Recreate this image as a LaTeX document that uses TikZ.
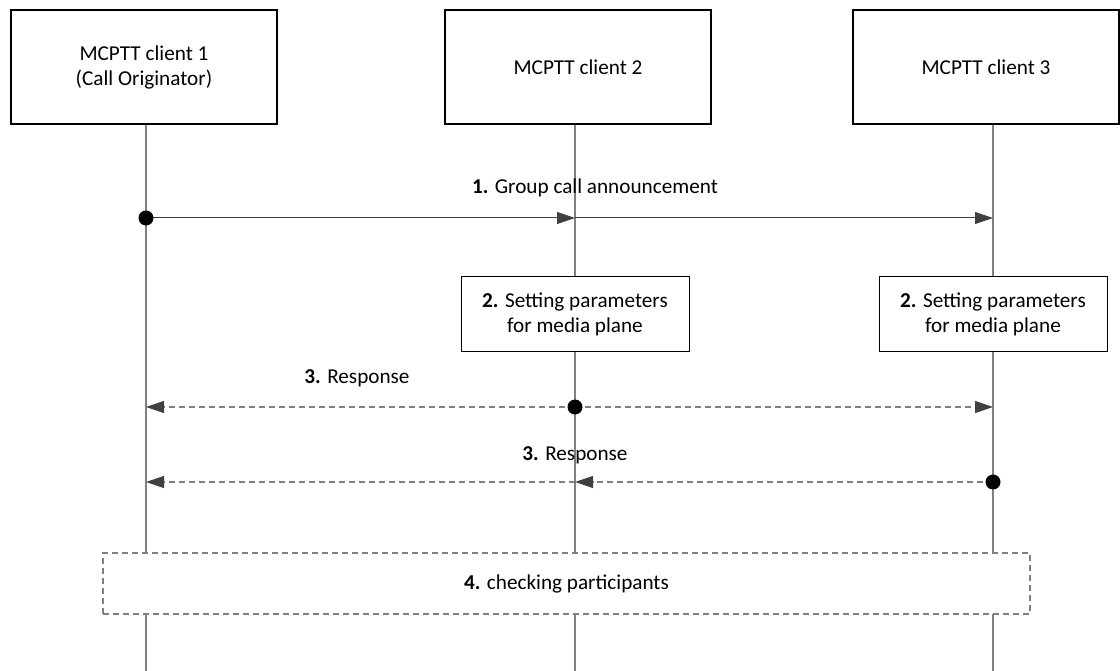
\documentclass[tikz,border=0pt]{standalone}
\usepackage{fontspec}
\setmainfont{Carlito}
\usetikzlibrary{arrows.meta,positioning,calc}
\definecolor{life}{HTML}{808080}
\definecolor{tip}{HTML}{404040}
\tikzset{
  >={Triangle[length=18pt,width=12pt,color=tip]},
  txt/.style={font=\fontsize{21.2}{25}\selectfont},
  actor/.style={txt,draw=black,line width=1.5pt,minimum width=266pt,minimum height=114pt,align=center,fill=white},
  proc/.style={txt,draw=black,line width=0.8pt,minimum width=228pt,minimum height=75pt,align=center,fill=white},
  lab/.style={txt,inner sep=0pt},
  lifeline/.style={draw=life,line width=1.3pt},
  arr/.style={->,draw=tip,line width=1pt},
  darr/.style={->,draw=life,line width=1.2pt,dash pattern=on 6pt off 4pt},
  dot/.style={circle,fill=black,inner sep=0pt,minimum size=15pt},
}
\begin{document}
\begin{tikzpicture}[x=1pt,y=-1pt]
\useasboundingbox (0,0) rectangle (1120,671);
% lifelines
\foreach \n/\x in {1/146,2/575,3/993}{
  \coordinate (top\n) at (\x,124);
  \coordinate (bot\n) at (\x,671);
  \draw[lifeline] (top\n) -- (bot\n);
}
% actors
\node[actor] (c1) at (144,67) {MCPTT client 1\\(Call Originator)};
\node[actor] (c2) at (578,67) {MCPTT client 2};
\node[actor] (c3) at (986,67) {MCPTT client 3};
% 1. announcement
\coordinate (m1a) at (146,218);
\coordinate (m1b) at (575,218);
\coordinate (m1c) at (993,218);
\draw[arr] (m1a) -- (m1b);
\draw[arr] (m1b) -- (m1c);
\node[dot] (d1) at (m1a) {};
\node[lab] (l1) at (595,188) {\textbf{1.} Group call announcement};
% 2. setting parameters
\node[proc] (p2) at (575,314) {\textbf{2.} Setting parameters\\for media plane};
\node[proc] (p3) at (993,314) {\textbf{2.} Setting parameters\\for media plane};
% 3. response from client 2
\coordinate (m3a) at (146,407);
\coordinate (m3b) at (575,407);
\coordinate (m3c) at (993,407);
\draw[darr] (m3b) -- (m3a);
\draw[darr] (m3b) -- (m3c);
\node[dot] (d3) at (m3b) {};
\node[lab] (l3) at (357,378) {\textbf{3.} Response};
% 3. response from client 3
\coordinate (m4a) at (146,482);
\coordinate (m4b) at (575,482);
\coordinate (m4c) at (993,482);
\draw[darr] (m4c) -- (m4b);
\draw[darr] (m4b) -- (m4a);
\node[dot] (d4) at (m4c) {};
\node[lab] (l4) at (575,455) {\textbf{3.} Response};
% 4. checking participants
\node[txt,draw=life,line width=1.2pt,dash pattern=on 6pt off 4pt,fill=white,minimum width=927pt,minimum height=61pt] (chk) at (566.5,583.5) {\textbf{4.} checking participants};
\end{tikzpicture}
\end{document}
